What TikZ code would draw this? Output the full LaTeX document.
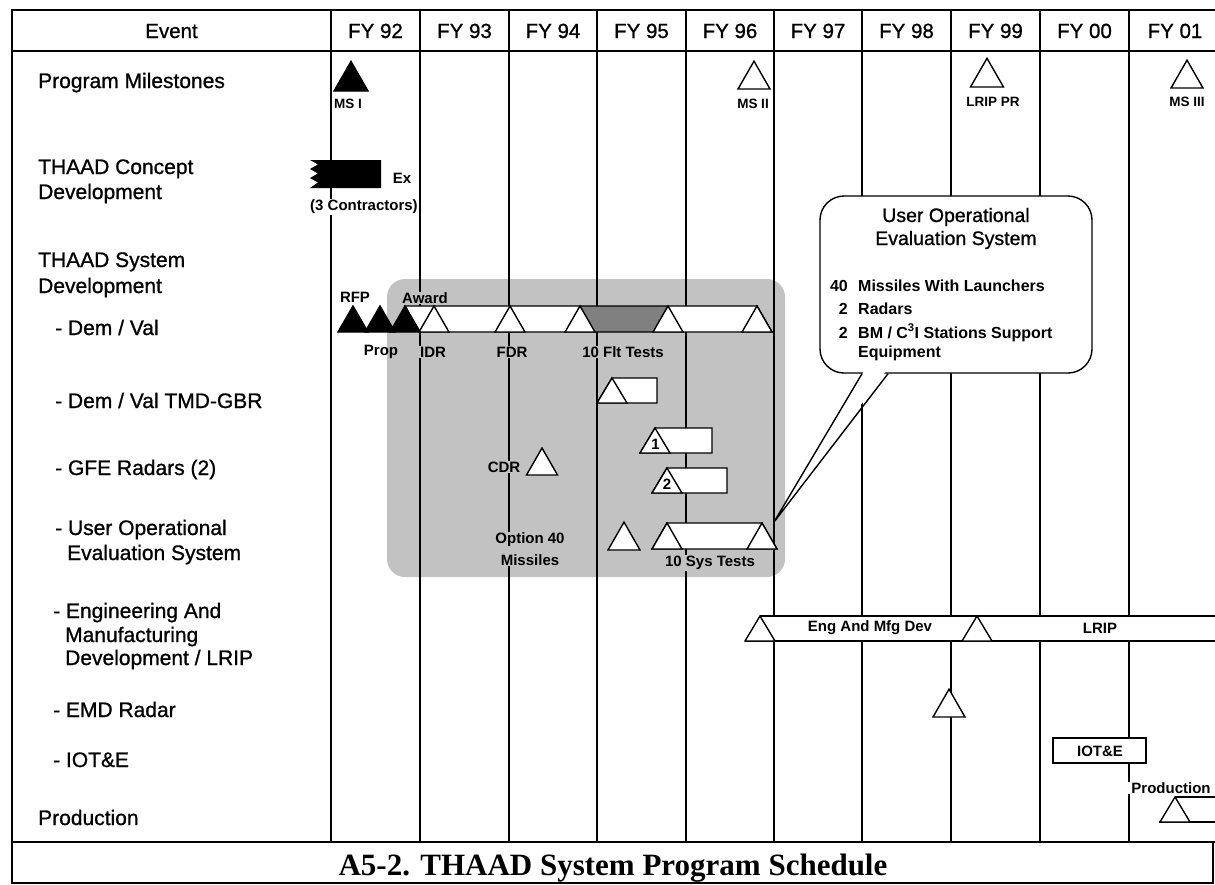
\documentclass[tikz,border=0pt]{standalone}
\usepackage{fontspec}
\setmainfont{Liberation Sans}
\newfontfamily\medfont{Liberation Sans}[FakeBold=0.9]
\newfontfamily\capfont{Liberation Serif}
\colorlet{hgray}{black!24}
\colorlet{hdark}{black!50}
% isolated milestone triangle: [fill]{apex x}{base y}{width}
\newcommand\mtri[4][white]{\filldraw[shp,fill=#1] ({#2-#4/2},#3) -- (#2,{#3-0.87*#4}) -- ({#2+#4/2},#3) -- cycle;}
% bar triangle: [fill]{apex x}{base y}{top y}
\newcommand\btri[4][white]{\filldraw[shp,fill=#1] ({#2-15},#3) -- (#2,#4) -- ({#2+15},#3) -- cycle;}
\begin{document}
\begin{tikzpicture}[x=1pt,y=-1pt,
  grid/.style={line width=1.3pt},
  frm/.style={line width=2.2pt},
  shp/.style={draw,line width=1.4pt},
  evt/.style={anchor=base west,inner sep=0pt,font=\medfont\fontsize{21}{24}\selectfont},
  hdr/.style={anchor=base,inner sep=0pt,font=\medfont\fontsize{20.5}{24}\selectfont},
  lbl/.style={inner sep=0.8pt,font=\fontsize{15}{17}\selectfont\bfseries},
  mlbl/.style={inner sep=0.8pt,font=\fontsize{13.5}{15}\selectfont\bfseries},
  kow/.style={fill=white},
  kop/.style={fill=hgray},
  cot/.style={anchor=base,inner sep=0pt,font=\medfont\fontsize{19.5}{22}\selectfont},
  coi/.style={inner sep=0pt,font=\fontsize{16}{18}\selectfont\bfseries}]
\useasboundingbox (0,0) rectangle (1215,884);
\fill[white] (0,0) rectangle (1215,884);
% shaded Dem/Val area
\fill[hgray,rounded corners=18] (387,279) rectangle (785,577);
% year grid
\foreach \x in {331,420,509,597,686,774,862,951,1040,1129}
  \draw[grid] (\x,10) -- (\x,842);
% header texts
\node[hdr] (ev) at (171.5,38) {Event};
\foreach \c/\t [count=\i] in {375.5/92,464.5/93,553/94,641.5/95,730/96,818/97,906.5/98,995.5/99,1084.5/00,1175/01}
  \node[hdr] (fy\i) at (\c,38) {FY \t};
% event column
\node[evt] (e1) at (38,88) {Program Milestones};
\node[evt] (e2a) at (38,174) {THAAD Concept};
\node[evt] (e2b) at (38,199) {Development};
\node[evt] (e3a) at (38,267) {THAAD System};
\node[evt] (e3b) at (38,293) {Development};
\node[evt] (e4) at (55,335) {- Dem / Val};
\node[evt] (e5) at (55,408) {- Dem / Val TMD-GBR};
\node[evt] (e6) at (55,475) {- GFE Radars (2)};
\node[evt] (e7a) at (55,535) {- User Operational};
\node[evt] (e7b) at (67,560) {Evaluation System};
\node[evt] (e8a) at (53,618) {- Engineering And};
\node[evt] (e8b) at (65,642) {Manufacturing};
\node[evt] (e8c) at (65,665) {Development / LRIP};
\node[evt] (e9) at (53,717) {- EMD Radar};
\node[evt] (e10) at (53,767) {- IOT\&E};
\node[evt] (e11) at (38,825) {Production};
% program milestones
\mtri[black]{351}{91}{34}
\mtri{754}{89}{32}
\mtri{987}{87}{33}
\mtri{1187}{88}{32}
\node[mlbl] (ms1) at (348,104) {MS I};
\node[mlbl] (ms2) at (753,104) {MS II};
\node[mlbl] (lpr) at (993,102) {LRIP PR};
\node[mlbl] (ms3) at (1187,102) {MS III};
% concept development
\fill[black] (381,160) -- (310,160) -- (318,164.5) -- (310,169) -- (318,173.5) -- (310,178) -- (318,182.5) -- (310,188) -- (381,188) -- cycle;
\node[lbl] (ex) at (402,178) {Ex};
\node[lbl,kow] (con) at (364,207) {(3 Contractors)};
% Dem / Val bar
\fill[white] (405,306) -- (757,306) -- (772,332) -- (420,332) -- cycle;
\fill[hdark] (580,306) -- (668,306) -- (653,332) -- (595,332) -- cycle;
\draw[shp] (405,306) -- (757,306) -- (772,332) -- (420,332) -- cycle;
\btri[black]{353}{332}{306}
\btri[black]{380}{332}{306}
\btri[black]{405}{332}{306}
\btri{434}{332}{306}
\btri{510}{332}{306}
\btri{580}{332}{306}
\btri{668}{332}{306}
\btri{757}{332}{306}
\node[lbl] (rfp) at (355,297) {RFP};
\node[lbl,kop] (awd) at (425,298) {Award};
\node[lbl] (prop) at (381,352) {Prop};
\node[lbl,kop,inner xsep=2pt] (idr) at (433,352) {IDR};
\node[lbl,kop] (fdr) at (512,352) {FDR};
\node[lbl,kop] (flt) at (623,352) {10 Flt Tests};
% TMD-GBR
\filldraw[shp,fill=white] (597,403) -- (612,378) -- (657,378) -- (657,403) -- cycle;
\btri{612}{403}{378}
% GFE radars
\node[lbl,kop] (cdr) at (504,467) {CDR};
\mtri{542}{475}{31}
\filldraw[shp,fill=white] (640,453) -- (655,428) -- (712,428) -- (712,453) -- cycle;
\btri{655}{453}{428}
\node[lbl] (g1) at (655.5,444) {1};
\filldraw[shp,fill=white] (652,493) -- (667,468) -- (727,468) -- (727,493) -- cycle;
\btri{667}{493}{468}
\node[lbl] (g2) at (667,484) {2};
% User operational evaluation system
\node[lbl,kop,align=center,font=\fontsize{15}{22}\selectfont\bfseries] (opt) at (530,549) {Option 40\\Missiles};
\mtri{624}{550}{32}
\filldraw[shp,fill=white] (652,549) -- (667,523) -- (762,523) -- (777,549) -- cycle;
\btri{667}{549}{523}
\btri{762}{549}{523}
\node[lbl,kop] (sys) at (710,563) {10 Sys Tests};
% EMD / LRIP
\fill[white] (745,641) -- (760,616) -- (1216,616) -- (1216,641) -- cycle;
\draw[shp] (1216,616) -- (760,616);
\draw[shp] (745,641) -- (1216,641);
\btri{760}{641}{616}
\btri{977}{641}{616}
\node[lbl] (emd) at (870,628) {Eng And Mfg Dev};
\node[lbl] (lrip) at (1100,628) {LRIP};
\mtri{949}{717}{32}
% IOT&E
\filldraw[shp,fill=white] (1053,738) rectangle (1146,763);
\node[lbl] (iot) at (1100,751) {IOT\&E};
% Production
\node[lbl,kow,inner xsep=5pt] (prod) at (1171,788) {Production};
\fill[white] (1159,822) -- (1175,797) -- (1216,797) -- (1216,822) -- cycle;
\draw[shp] (1216,797) -- (1175,797);
\draw[shp] (1159,822) -- (1216,822);
\btri{1175}{822}{797}
% callout
\filldraw[shp,fill=white,rounded corners=24] (820,196) rectangle (1092,373);
\fill[white] (864,371) -- (886,371) -- (776,519) -- cycle;
\coordinate (tip) at (774,522);
\coordinate (wl) at (862,373.7);
\coordinate (wr) at (888,373.7);
\draw[shp] (wl) -- (tip) -- (wr);
\node[cot] (ct1) at (956,222) {User Operational};
\node[cot] (ct2) at (956,245) {Evaluation System};
\node[coi,anchor=base east] (n40) at (848,291) {40};
\node[coi,anchor=base west] (t40) at (858,291) {Missiles With Launchers};
\node[coi,anchor=base east] (n2a) at (848,314) {2};
\node[coi,anchor=base west] (t2a) at (858,314) {Radars};
\node[coi,anchor=base east] (n2b) at (848,338) {2};
\node[coi,anchor=base west] (t2b) at (858,338) {BM / C\textsuperscript{3}I Stations Support};
\node[coi,anchor=base west] (teq) at (858,357) {Equipment};
% frame
\draw[frm] (11,10) -- (1216,10);
\draw[frm] (11,51) -- (1216,51);
\draw[frm,line width=2.6pt] (11,842) -- (1216,842);
\draw[frm] (11,883) -- (1213,883) -- (1213,842);
\draw[frm] (12,9) -- (12,884);
% caption
\node[anchor=base,inner sep=0pt,font=\capfont\bfseries\fontsize{31}{36}\selectfont] (cap) at (613,875) {A5-2. THAAD System Program Schedule};
\end{tikzpicture}
\end{document}
